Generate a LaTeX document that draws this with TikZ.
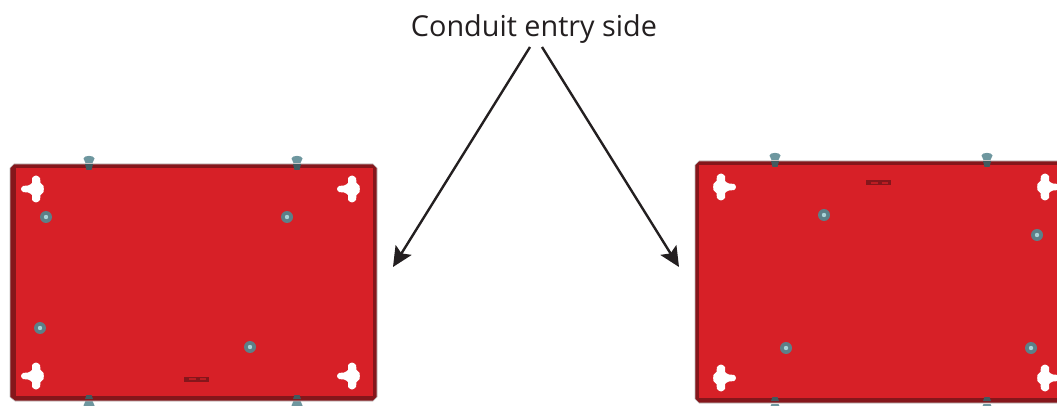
\documentclass[tikz,border=0pt]{standalone}
\usepackage{fontspec}
\usetikzlibrary{arrows.meta}
\setmainfont{Open Sans}
\definecolor{panelred}{HTML}{D72027}
\definecolor{paneledge}{HTML}{85161B}
\definecolor{screwgray}{HTML}{5C8088}
\definecolor{screwlight}{HTML}{A9D3D8}
\definecolor{bolthead}{HTML}{6E979F}
\definecolor{inktext}{HTML}{231F20}
\tikzset{
  callout/.style={draw=inktext,line width=1.8pt,-{Stealth[length=15pt,width=14pt,inset=3pt]}},
  edgeplate/.style={fill=paneledge,draw=black!25,line width=0.4pt},
  faceplate/.style={fill=panelred},
  keyhole/.pic={
    \fill[white] plot[smooth cycle,tension=0.5] coordinates {(-14,0) (-12,-3) (-7,-3.5) (-3,-6) (-3,-11) (1,-13.5) (5,-11) (5.5,-6) (8.5,-3) (8.5,3) (5.5,6) (5,11) (1,13.5) (-3,11) (-3,6) (-7,3.5) (-12,3)};
  },
  screwhead/.pic={
    \fill[screwgray] (0,0) circle (6);
    \fill[screwlight] (0,0) circle (2.2);
  },
  boltpin/.pic={
    \fill[bolthead] (-5.5,-4.5) .. controls (-5,-8) and (5,-8) .. (5.5,-4.5) -- (3.5,0) -- (-3.5,0) -- cycle;
  },
  slotmark/.pic={
    \fill[paneledge] (-12.5,-2.5) rectangle (12.5,2.5);
    \fill[panelred!70!paneledge] (-8,-1) rectangle (-1,1);
    \fill[panelred!70!paneledge] (3,-1) rectangle (9,1);
  }
}
\begin{document}
\begin{tikzpicture}[x=0.75pt,y=-0.75pt]
    \clip (0,0) rectangle (1057,406);
    \foreach \x/\y/\s in {89/163/1,297/163/1,89/401/-1,297/401/-1,775/160/1,987/160/1,775/404/-1,987/404/-1}
      \pic[yscale=\s] at (\x,\y) {boltpin};
    \draw[edgeplate] (14,164) -- (373,164) -- (377,168) -- (377,397) -- (373,401) -- (15,401) -- (10,397) -- (10,168) -- cycle;
    \fill[faceplate] (15.5,168) rectangle (372.5,396);
    \draw[edgeplate] (699,161) -- (1060,161) -- (1060,403) -- (699,403) -- (695,399) -- (695,165) -- cycle;
    \fill[faceplate] (699,165.5) rectangle (1060,398);
    \foreach \x/\y/\s in {89/163/1,297/163/1,775/160/1,987/160/1}
      \fill[screwgray!70!black] (\x-4,\y+1) -- (\x+4,\y+1) -- (\x+2.5,\y+7) -- (\x-2.5,\y+7) -- cycle;
    \foreach \x/\y/\s in {89/400/-1,297/400/-1,775/402/-1,987/402/-1}
      \fill[screwgray!70!black] (\x-4,\y-1) -- (\x+4,\y-1) -- (\x+2.5,\y-5) -- (\x-2.5,\y-5) -- cycle;
    \foreach \x/\y in {35/189,351/189,35/376,351/376}
      \pic at (\x,\y) {keyhole};
    \foreach \x/\y in {722/187,1046/187,722/378,1046/378}
      \pic[xscale=-1] at (\x,\y) {keyhole};
    \foreach \x/\y in {46/217,287/217,40/328,250/347,824/215,1037/235,786/348,1031/348}
      \pic at (\x,\y) {screwhead};
    \pic at (196.5,379) {slotmark};
    \pic at (878.5,183) {slotmark};
    \node[text=inktext,font=\fontsize{21.6}{25}\selectfont,inner sep=0pt] (entrylabel) at (534,29) {Conduit entry side};
    \coordinate (leftside) at (393,267);
    \coordinate (rightside) at (679,267);
    \draw[callout] ([xshift=-3pt,yshift=-2.5pt]entrylabel.south) -- (leftside);
    \draw[callout] ([xshift=6pt,yshift=-2.5pt]entrylabel.south) -- (rightside);
  \end{tikzpicture}
\end{document}
